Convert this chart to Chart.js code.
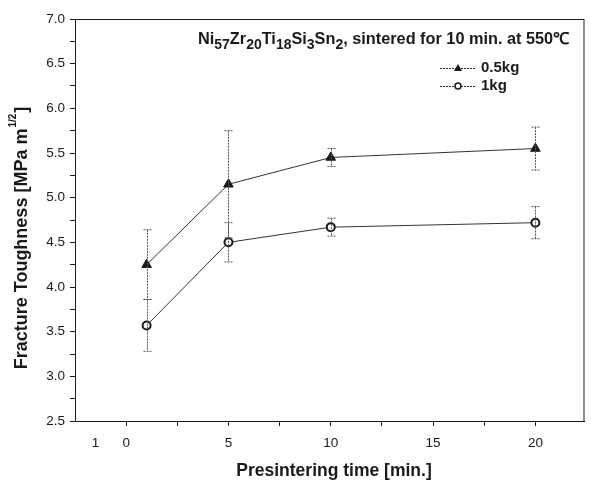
<!DOCTYPE html>
<html lang="en">
<head>
    <meta charset="UTF-8">
    <title>Fracture Toughness vs Presintering time</title>
    <script src="https://cdn.jsdelivr.net/npm/chart.js"></script>
    <style>
        body { margin: 0; background: #fff; }
        #wrap { width: 591px; height: 485px; }
    </style>
</head>
<body>
    <div id="wrap"><canvas id="toughChart"></canvas></div>

    <script>
        // data
        const times = [1, 5, 10, 20];
        const load05 = [4.25, 5.15, 5.45, 5.55];
        const load05Err = [0.39, 0.60, 0.10, 0.24];
        const load1 = [3.57, 4.50, 4.67, 4.72];
        const load1Err = [0.29, 0.22, 0.10, 0.18];

        const xTickValues = [-1.5, 0, 2.5, 5, 7.5, 10, 12.5, 15, 17.5, 20];
        const xTickLabels = ["1", "0", "", "5", "", "10", "", "15", "", "20"];
        const legendNames = ["0.5kg", "1kg"];

        const ink = "#1a1a1a";
        const FONT = "'Liberation Sans', Arial, sans-serif";

        function pts(xs, ys) {
            return xs.map((x, i) => ({ x: x, y: ys[i] }));
        }

        // error bars, frame, title, legend, y title
        const extras = {
            id: "extras",
            afterDatasetsDraw(chart) {
                const ctx = chart.ctx;
                const xs = chart.scales.x, ys = chart.scales.y;

                ctx.save();
                ctx.strokeStyle = "#555";
                ctx.lineWidth = 1;
                ctx.setLineDash([2, 1]);
                [[load05, load05Err], [load1, load1Err]].forEach(([vals, errs]) => {
                    vals.forEach((v, i) => {
                        const px = Math.round(xs.getPixelForValue(times[i])) + 0.5;
                        const top = ys.getPixelForValue(v + errs[i]);
                        const bot = ys.getPixelForValue(v - errs[i]);
                        ctx.beginPath();
                        ctx.moveTo(px, top); ctx.lineTo(px, bot);
                        ctx.moveTo(px - 4, top); ctx.lineTo(px + 4, top);
                        ctx.moveTo(px - 4, bot); ctx.lineTo(px + 4, bot);
                        ctx.stroke();
                    });
                });
                ctx.setLineDash([]);
                ctx.restore();
            },
            afterDraw(chart) {
                const ctx = chart.ctx;
                const a = chart.chartArea;
                ctx.save();

                // frame
                ctx.strokeStyle = ink;
                ctx.lineWidth = 1;
                ctx.strokeRect(a.left + 0.5, a.top + 0.5, a.right - a.left - 1, a.bottom - a.top);

                // title with subscripts
                const parts = [["Ni", 0], ["57", 1], ["Zr", 0], ["20", 1], ["Ti", 0], ["18", 1],
                               ["Si", 0], ["3", 1], ["Sn", 0], ["2", 1], [", sintered for 10 min. at 550\u2103", 0]];
                let x = 198;
                const base = 44;
                ctx.fillStyle = ink;
                ctx.textBaseline = "alphabetic";
                ctx.textAlign = "left";
                parts.forEach(([t, sub]) => {
                    ctx.font = sub ? "bold 14px " + FONT : "bold 16.3px " + FONT;
                    ctx.fillText(t, x, base + (sub ? 5 : 0));
                    x += ctx.measureText(t).width;
                });

                // legend
                const rows = [68, 86];
                rows.forEach((ry, i) => {
                    ctx.strokeStyle = "#333";
                    ctx.lineWidth = 1;
                    ctx.setLineDash([2, 1]);
                    ctx.beginPath();
                    ctx.moveTo(440, ry + 0.5); ctx.lineTo(476, ry + 0.5);
                    ctx.stroke();
                    ctx.setLineDash([]);
                    if (i === 0) {
                        ctx.fillStyle = ink;
                        ctx.beginPath();
                        ctx.moveTo(458, ry - 4); ctx.lineTo(462, ry + 3); ctx.lineTo(454, ry + 3);
                        ctx.closePath();
                        ctx.fill();
                    } else {
                        ctx.fillStyle = "#fff";
                        ctx.strokeStyle = ink;
                        ctx.lineWidth = 1.5;
                        ctx.beginPath();
                        ctx.arc(458, ry, 3, 0, Math.PI * 2);
                        ctx.fill();
                        ctx.stroke();
                    }
                    ctx.fillStyle = ink;
                    ctx.font = "bold 15px " + FONT;
                    ctx.textBaseline = "middle";
                    ctx.fillText(legendNames[i], 481, ry);
                });

                // y axis title with superscript
                ctx.translate(22, 238);
                ctx.rotate(-Math.PI / 2);
                const yParts = [["Fracture Toughness [MPa m", 0], ["1/2", 1], ["]", 0]];
                let w = 0;
                yParts.forEach(([t, sup]) => {
                    ctx.font = sup ? "bold 10px " + FONT : "bold 18px " + FONT;
                    w += ctx.measureText(t).width + (sup ? 2 : 0);
                });
                let tx = -w / 2;
                ctx.textBaseline = "middle";
                ctx.fillStyle = ink;
                yParts.forEach(([t, sup]) => {
                    ctx.font = sup ? "bold 10px " + FONT : "bold 18px " + FONT;
                    if (sup) tx += 1;
                    ctx.fillText(t, tx, sup ? -9 : 0);
                    tx += ctx.measureText(t).width + (sup ? 1 : 0);
                });
                ctx.setTransform(1, 0, 0, 1, 0, 0);

                // x axis title
                ctx.font = "bold 17.5px " + FONT;
                ctx.textAlign = "center";
                ctx.textBaseline = "middle";
                ctx.fillText("Presintering time [min.]", 334, 471);

                ctx.restore();
            }
        };

        new Chart(document.getElementById("toughChart"), {
            type: "line",
            data: {
                datasets: [
                    {
                        label: legendNames[0],
                        data: pts(times, load05),
                        borderColor: "#333",
                        borderWidth: 1,
                        pointStyle: "triangle",
                        pointRadius: 5.5,
                        pointBackgroundColor: ink,
                        pointBorderColor: ink,
                        pointBorderWidth: 1
                    },
                    {
                        label: legendNames[1],
                        data: pts(times, load1),
                        borderColor: "#333",
                        borderWidth: 1,
                        pointStyle: "circle",
                        pointRadius: 4,
                        pointBackgroundColor: "#fff",
                        pointBorderColor: ink,
                        pointBorderWidth: 2
                    }
                ]
            },
            options: {
                responsive: true,
                maintainAspectRatio: false,
                animation: false,
                layout: { padding: { top: 19, right: 2, left: 0, bottom: 0 } },
                plugins: {
                    legend: { display: false },
                    tooltip: { enabled: false }
                },
                scales: {
                    x: {
                        type: "linear",
                        min: -2.5,
                        max: 22.4,
                        afterFit(scale) { scale.height = 64; },
                        afterBuildTicks(scale) {
                            scale.ticks = xTickValues.map(v => ({ value: v }));
                        },
                        ticks: {
                            autoSkip: false,
                            maxRotation: 0,
                            padding: 9,
                            color: ink,
                            font: { family: FONT, size: 13.5 },
                            callback: (v) => {
                                const i = xTickValues.indexOf(v);
                                return i >= 0 ? xTickLabels[i] : "";
                            }
                        },
                        grid: {
                            drawOnChartArea: false,
                            drawTicks: true,
                            tickLength: 5,
                            tickColor: (c) => c.tick && c.tick.value === -1.5 ? "rgba(0,0,0,0)" : ink
                        },
                        border: { display: true, color: ink, width: 1 }
                    },
                    y: {
                        min: 2.5,
                        max: 7.0,
                        afterFit(scale) { scale.width = 75; },
                        ticks: {
                            stepSize: 0.25,
                            padding: 5,
                            color: ink,
                            font: { family: FONT, size: 13.5 },
                            callback: (v) => (Math.abs(v * 2 - Math.round(v * 2)) < 1e-6 ? v.toFixed(1) : "")
                        },
                        grid: {
                            drawOnChartArea: false,
                            drawTicks: true,
                            tickLength: 5,
                            tickColor: ink
                        },
                        border: { display: true, color: ink, width: 1 }
                    }
                }
            },
            plugins: [extras]
        });
    </script>
</body>
</html>
